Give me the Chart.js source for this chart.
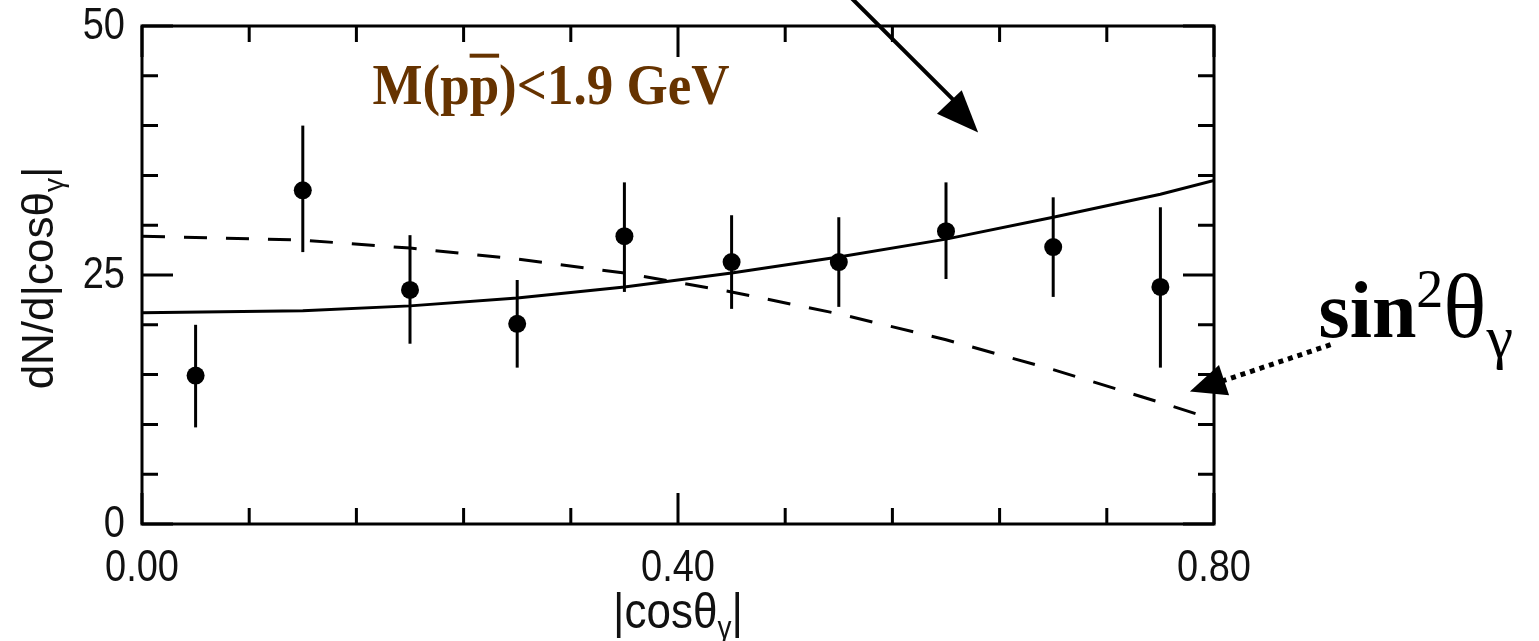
<!DOCTYPE html>
<html>
<head>
<meta charset="utf-8">
<script src="https://cdn.jsdelivr.net/npm/chart.js@4/dist/chart.umd.min.js"></script>
<style>
    html, body { margin: 0; padding: 0; background: #fff; }
    #chart { display: block; }
</style>
</head>
<body>
<canvas id="chart" width="1539" height="641"></canvas>
<script>
// Measured points (|cos theta_gamma| bin centres) with error bars
const binCenters = [0.04, 0.12, 0.20, 0.28, 0.36, 0.44, 0.52, 0.60, 0.68, 0.76];
const counts     = [14.9, 33.5, 23.5, 20.1, 28.9, 26.3, 26.3, 29.4, 27.8, 23.8];
const errHigh    = [20.0, 40.0, 29.0, 24.5, 34.3, 31.0, 30.8, 34.3, 32.8, 31.8];
const errLow     = [9.7, 27.3, 18.1, 15.7, 23.3, 21.6, 21.8, 24.6, 22.8, 15.7];

// Curves
const curveX      = [0, 0.12, 0.20, 0.28, 0.36, 0.44, 0.52, 0.60, 0.68, 0.76, 0.80];
const solidCurve  = [21.2, 21.4, 21.9, 22.7, 23.8, 25.2, 26.8, 28.6, 30.8, 33.1, 34.5];
const dashedCurve = [28.9, 28.5, 27.7, 26.6, 25.2, 23.3, 21.1, 18.5, 15.5, 12.2, 10.5];

// Axis ticks
const xMajorTicks = [0, 0.4, 0.8];
const xTickLabels = ['0.00', '0.40', '0.80'];
const xMinorTicks = [0.08, 0.16, 0.24, 0.32, 0.48, 0.56, 0.64, 0.72];
const yMajorTicks = [0, 25, 50];
const yTickLabels = ['0', '25', '50'];
const yMinorTicks = [5, 10, 15, 20, 30, 35, 40, 45];

const toXY = (xs, ys) => xs.map((x, i) => ({ x: x, y: ys[i] }));

const STRETCH = 1.15; // the original lettering is a bit taller than wide

function stretchedText(ctx, text, x, y) {
    ctx.save();
    ctx.scale(1, STRETCH);
    ctx.fillText(text, x, y / STRETCH);
    ctx.restore();
}

function arrowHead(ctx, x1, y1, x2, y2, len, half) {
    const a = Math.atan2(y2 - y1, x2 - x1);
    ctx.beginPath();
    ctx.moveTo(x2, y2);
    ctx.lineTo(x2 - len * Math.cos(a) + half * Math.sin(a), y2 - len * Math.sin(a) - half * Math.cos(a));
    ctx.lineTo(x2 - len * Math.cos(a) - half * Math.sin(a), y2 - len * Math.sin(a) + half * Math.cos(a));
    ctx.closePath();
    ctx.fill();
}

const errorBars = {
    id: 'errorBars',
    beforeDatasetsDraw(chart) {
        const { ctx, scales: { x, y } } = chart;
        ctx.save();
        ctx.strokeStyle = '#000';
        ctx.lineWidth = 3;
        binCenters.forEach((c, i) => {
            const px = x.getPixelForValue(c);
            ctx.beginPath();
            ctx.moveTo(px, y.getPixelForValue(errLow[i]));
            ctx.lineTo(px, y.getPixelForValue(errHigh[i]));
            ctx.stroke();
        });
        ctx.restore();
    }
};

const frame = {
    id: 'frame',
    afterDraw(chart) {
        const { ctx, chartArea: a, scales: { x, y } } = chart;
        ctx.save();
        ctx.strokeStyle = '#000';
        ctx.lineWidth = 3;
        ctx.strokeRect(a.left, a.top, a.right - a.left, a.bottom - a.top);

        // inward ticks on all four sides
        const xt = (v, len) => {
            const px = x.getPixelForValue(v);
            ctx.beginPath();
            ctx.moveTo(px, a.bottom); ctx.lineTo(px, a.bottom - len);
            ctx.moveTo(px, a.top); ctx.lineTo(px, a.top + len);
            ctx.stroke();
        };
        const yt = (v, len) => {
            const py = y.getPixelForValue(v);
            ctx.beginPath();
            ctx.moveTo(a.left, py); ctx.lineTo(a.left + len, py);
            ctx.moveTo(a.right, py); ctx.lineTo(a.right - len, py);
            ctx.stroke();
        };
        xMinorTicks.forEach(v => xt(v, 16));
        xMajorTicks.forEach(v => xt(v, 31));
        yMinorTicks.forEach(v => yt(v, 16));
        yMajorTicks.forEach(v => yt(v, 31));

        // tick labels
        ctx.fillStyle = '#111';
        ctx.font = '38px "Liberation Sans", Arial, sans-serif';
        ctx.textBaseline = 'middle';
        ctx.textAlign = 'right';
        yMajorTicks.forEach((v, i) => stretchedText(ctx, yTickLabels[i], a.left - 17, y.getPixelForValue(v) + 1));
        ctx.textAlign = 'center';
        xMajorTicks.forEach((v, i) => stretchedText(ctx, xTickLabels[i], x.getPixelForValue(v), a.bottom + 45));

        // x axis title |cosθγ|
        ctx.textAlign = 'left';
        ctx.textBaseline = 'alphabetic';
        const big = '44px "Liberation Sans", Arial, sans-serif';
        const small = '28px "Liberation Sans", Arial, sans-serif';
        ctx.font = big;
        const main = '|cos\u03b8';
        const wMain = ctx.measureText(main).width;
        ctx.font = small;
        const wSub = ctx.measureText('\u03b3').width;
        ctx.font = big;
        const wBar = ctx.measureText('|').width;
        const total = wMain + wSub + wBar;
        const sx = (a.left + a.right) / 2 - total / 2;
        const base = 628;
        stretchedText(ctx, main, sx, base);
        ctx.font = small;
        stretchedText(ctx, '\u03b3', sx + wMain, base + 10);
        ctx.font = big;
        stretchedText(ctx, '|', sx + wMain + wSub, base);

        // y axis title dN/d|cosθγ|
        ctx.save();
        ctx.translate(53, (a.top + a.bottom) / 2 + 3);
        ctx.rotate(-Math.PI / 2);
        ctx.font = big;
        const yMain = 'dN/d|cos\u03b8';
        const wyMain = ctx.measureText(yMain).width;
        const yTotal = wyMain + wSub + wBar;
        const ty = -yTotal / 2;
        ctx.fillText(yMain, ty, 0);
        ctx.font = small;
        ctx.fillText('\u03b3', ty + wyMain, 10);
        ctx.font = big;
        ctx.fillText('|', ty + wyMain + wSub, 0);
        ctx.restore();

        // annotations
        ctx.fillStyle = '#663300';
        ctx.font = 'bold 53px "Liberation Serif", "Times New Roman", serif';
        const lx = x.getPixelForValue(0.172);
        const ly = y.getPixelForValue(42.2);
        const wPre = ctx.measureText('M(p').width;
        const wP = ctx.measureText('p').width;
        ctx.save();
        ctx.scale(1, 1.08);
        ctx.fillText('M(pp)<1.9 GeV', lx, ly / 1.08);
        ctx.restore();
        ctx.fillRect(lx + wPre, ly - 50, wP, 4);

        ctx.fillStyle = '#000';
        ctx.font = 'bold 80px "Liberation Serif", "Times New Roman", serif';
        const sxp = x.getPixelForValue(0.878);
        const syp = y.getPixelForValue(18.8);
        ctx.fillText('sin', sxp, syp);
        let cx = sxp + ctx.measureText('sin').width;
        ctx.font = '54px "Liberation Serif", "Times New Roman", serif';
        ctx.fillText('2', cx, syp - 30);
        cx += ctx.measureText('2').width;
        ctx.font = '90px "Liberation Serif", "Times New Roman", serif';
        ctx.fillText('\u03b8', cx, syp);
        cx += ctx.measureText('\u03b8').width;
        ctx.font = '60px "Liberation Serif", "Times New Roman", serif';
        ctx.fillText('\u03b3', cx, syp + 20);

        // solid arrow at the top
        const ax1 = x.getPixelForValue(0.528), ay1 = y.getPixelForValue(53);
        const ax2 = x.getPixelForValue(0.624), ay2 = y.getPixelForValue(39.3);
        ctx.strokeStyle = '#000';
        ctx.lineWidth = 4;
        ctx.beginPath();
        ctx.moveTo(ax1, ay1);
        ctx.lineTo(ax2 - 20, ay2 - 28);
        ctx.stroke();
        arrowHead(ctx, ax1, ay1, ax2, ay2, 42, 17);

        // dotted arrow to the dashed curve
        const dx1 = x.getPixelForValue(0.887), dy1 = y.getPixelForValue(18.0);
        const dx2 = x.getPixelForValue(0.782), dy2 = y.getPixelForValue(13.3);
        ctx.lineWidth = 5;
        ctx.setLineDash([5, 5]);
        ctx.beginPath();
        ctx.moveTo(dx1, dy1);
        ctx.lineTo(dx2 + 28, dy2 - 9);
        ctx.stroke();
        ctx.setLineDash([]);
        arrowHead(ctx, dx1, dy1, dx2, dy2, 36, 16);
        ctx.restore();
    }
};

new Chart(document.getElementById('chart'), {
    type: 'scatter',
    data: {
        datasets: [
            {
                label: 'data',
                data: toXY(binCenters, counts),
                showLine: false,
                pointStyle: 'circle',
                pointRadius: 9,
                backgroundColor: '#000',
                borderColor: '#000',
                borderWidth: 0,
            },
            {
                label: 'solid',
                data: toXY(curveX, solidCurve),
                showLine: true,
                pointRadius: 0,
                borderColor: '#000',
                borderWidth: 3,
                tension: 0,
            },
            {
                label: 'sin2',
                data: toXY(curveX, dashedCurve),
                showLine: true,
                pointRadius: 0,
                borderColor: '#000',
                borderWidth: 3,
                borderDash: [23, 19],
                tension: 0,
            },
        ],
    },
    options: {
        responsive: false,
        devicePixelRatio: 1,
        animation: false,
        layout: { padding: { left: 142, right: 325, top: 26, bottom: 117 } },
        scales: {
            x: { type: 'linear', min: 0, max: 0.8, display: false },
            y: { type: 'linear', min: 0, max: 50, display: false },
        },
        plugins: {
            legend: { display: false },
            tooltip: { enabled: false },
        },
    },
    plugins: [errorBars, frame],
});
</script>
</body>
</html>
